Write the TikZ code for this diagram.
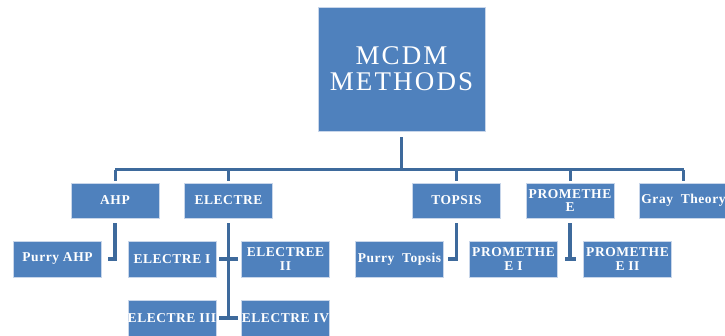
\documentclass[tikz,border=0pt]{standalone}
\usepackage{fontspec}
\newfontfamily\boxfont[LetterSpace=4]{Liberation Serif}
\newfontfamily\topfont[LetterSpace=8]{Liberation Serif}
\definecolor{boxblue}{RGB}{79,129,189}
\definecolor{boxedge}{RGB}{200,214,234}
\definecolor{connblue}{RGB}{62,106,156}
\begin{document}
\begin{tikzpicture}[x=1pt,y=-1pt,
  box/.style={draw=boxedge, line width=0.8pt, fill=boxblue, text=white,
    minimum width=88pt, minimum height=35pt, inner sep=1pt, align=center,
    font=\boxfont\bfseries\fontsize{13.5}{13.5}\selectfont},
  topbox/.style={box, minimum width=167pt, minimum height=124pt,
    font=\topfont\fontsize{27}{26}\selectfont},
  conn/.style={draw=connblue, line width=3pt},
  elb/.style={draw=connblue, line width=3.5pt}]
\useasboundingbox (0,0) rectangle (725,336);
% nodes
\node[topbox] (top) at (401.5,69) {MCDM\\METHODS};
\node[box] (ahp) at (115,200.5) {AHP};
\node[box] (ele) at (228.5,200.5) {ELECTRE};
\node[box] (top2) at (456.5,200.5) {TOPSIS};
\node[box] (pro) at (570,200.5) {PROMETHE\\E};
\node[box] (gray) at (683.5,200.5) {Gray\ \ Theory};
\node[box, minimum height=36pt] (pahp) at (57.5,259) {Purry AHP};
\node[box, minimum height=36pt] (e1) at (172,259) {ELECTRE I};
\node[box, minimum height=36pt] (e2) at (285.5,259) {ELECTREE\\II};
\node[box, minimum height=36pt] (ptop) at (399.5,259) {Purry\ \ Topsis};
\node[box, minimum height=36pt] (p1) at (513.5,259) {PROMETHE\\E I};
\node[box, minimum height=36pt] (p2) at (627.5,259) {PROMETHE\\E II};
\node[box, minimum height=36pt] (e3) at (172,318) {\makebox[84pt]{ELECTRE III}};
\node[box, minimum height=36pt] (e4) at (285.5,318) {\makebox[84pt]{ELECTRE IV}};
% bar
\coordinate (barL) at (115,170);
\coordinate (barR) at (683.5,170);
\draw[conn] ([yshift=-6pt]top.south) -- (top.south |- barL);
\draw[conn] (barL) -- (barR);
\foreach \n in {ahp,ele,top2,pro,gray}
  \draw[conn] (\n.north |- barL) -- ([yshift=2pt]\n.north);
% children
\draw[elb] ([yshift=-5pt]ahp.south) |- ([xshift=6pt]pahp.east);
\draw[elb] ([yshift=-5pt]ele.south) -- (ele.south |- e3.east);
\draw[elb] (ele.south |- e1.east) -- ([xshift=3pt]e1.east);
\draw[elb] (ele.south |- e1.east) -- ([xshift=-3pt]e2.west);
\draw[elb] (ele.south |- e3.east) -- ([xshift=3pt]e3.east);
\draw[elb] (ele.south |- e3.east) -- ([xshift=-3pt]e4.west);
\draw[elb] ([yshift=-5pt]top2.south) |- ([xshift=4pt]ptop.east);
\draw[elb] ([yshift=-5pt]pro.south) -- (pro.south |- p1.east);
\draw[elb] (pro.south |- p1.east) -- ([xshift=7pt]p1.east);
\draw[elb] (pro.south |- p1.east) -- ([xshift=-7pt]p2.west);
\end{tikzpicture}
\end{document}
